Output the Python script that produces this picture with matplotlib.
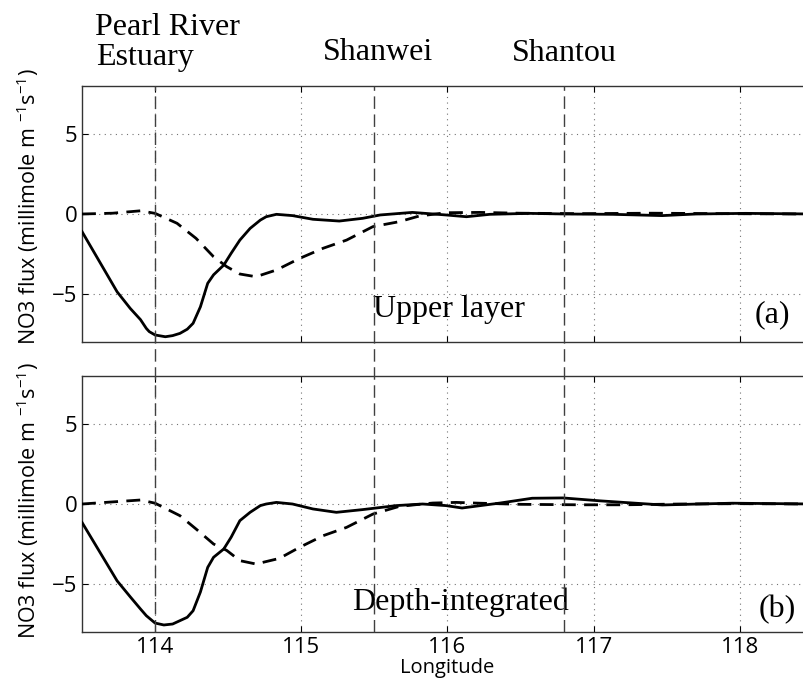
"""
NO3 flux along the coast: upper layer vs depth-integrated
"""

import matplotlib
matplotlib.use("Agg")
import matplotlib.pyplot as plt
from matplotlib.lines import Line2D
from matplotlib.transforms import blended_transform_factory

plt.rcParams["font.family"] = ["Open Sans", "DejaVu Sans"]
plt.rcParams["mathtext.fontset"] = "custom"
plt.rcParams["mathtext.rm"] = "Open Sans"
plt.rcParams["mathtext.default"] = "regular"

# upper layer, solid and dashed
up_solid_lon = [113.5, 113.74, 113.83, 113.9, 113.94, 113.96, 114.0, 114.07, 114.12,
                114.17, 114.22, 114.26, 114.31, 114.36, 114.4, 114.47, 114.52, 114.58,
                114.65, 114.72, 114.76, 114.83, 114.94, 115.08, 115.26, 115.42, 115.54,
                115.76, 115.99, 116.13, 116.29, 116.56, 116.81, 117.13, 117.47, 117.7,
                118.04, 118.5]
up_solid_val = [-1.1, -4.86, -5.9, -6.6, -7.15, -7.35, -7.56, -7.67, -7.6,
                -7.46, -7.2, -6.83, -5.8, -4.33, -3.8, -3.19, -2.46, -1.63,
                -0.9, -0.38, -0.17, -0.02, -0.1, -0.33, -0.44, -0.27, -0.06,
                0.1, -0.06, -0.17, -0.02, 0.04, 0.0, -0.02, -0.1, 0.0,
                0.04, 0.0]

up_dash_lon = [113.5, 113.71, 113.9, 114.0, 114.15, 114.28, 114.4, 114.49, 114.58,
               114.69, 114.83, 114.99, 115.15, 115.31, 115.49, 115.67, 115.81, 115.99,
               116.22, 116.49, 116.9, 117.4, 117.9, 118.5]
up_dash_val = [0.0, 0.05, 0.2, 0.04, -0.58, -1.52, -2.67, -3.29, -3.75,
               -3.92, -3.5, -2.77, -2.14, -1.63, -0.79, -0.48, -0.12, 0.08,
               0.1, 0.05, 0.02, 0.05, 0.02, 0.0]

# depth-integrated, solid and dashed
di_solid_lon = [113.5, 113.74, 113.83, 113.9, 113.94, 114.0, 114.06, 114.12, 114.17,
                114.22, 114.26, 114.31, 114.36, 114.4, 114.47, 114.52, 114.58, 114.65,
                114.72, 114.76, 114.83, 114.94, 115.08, 115.24, 115.42, 115.65, 115.83,
                115.99, 116.1, 116.36, 116.58, 116.79, 117.04, 117.27, 117.47, 117.72,
                117.95, 118.5]
di_solid_val = [-1.15, -4.8, -5.8, -6.56, -6.98, -7.44, -7.56, -7.5, -7.29,
                -7.08, -6.67, -5.5, -3.96, -3.33, -2.81, -2.08, -1.04, -0.52,
                -0.1, 0.0, 0.1, 0.0, -0.31, -0.52, -0.35, -0.1, 0.0,
                -0.1, -0.25, 0.06, 0.36, 0.38, 0.2, 0.06, -0.06, 0.0,
                0.05, 0.0]

di_dash_lon = [113.5, 113.9, 114.0, 114.17, 114.28, 114.4, 114.49, 114.58, 114.69,
               114.85, 114.99, 115.15, 115.31, 115.49, 115.67, 115.83, 115.9, 116.06,
               116.22, 116.5, 116.9, 117.2, 117.6, 118.0, 118.5]
di_dash_val = [0.0, 0.25, 0.05, -0.73, -1.56, -2.5, -2.9, -3.54, -3.75,
               -3.4, -2.7, -1.98, -1.46, -0.63, -0.15, 0.0, 0.06, 0.1,
               0.05, -0.02, -0.05, -0.05, 0.0, 0.02, 0.0]

# coastal sites marked by vertical dashed lines
site_lon = [114.0, 115.5, 116.8]
site_names = ["Pearl River", "Estuary", "Shanwei", "Shantou"]

ylab = r"NO3 flux (millimole m $^{-1}$s$^{-1}$)"

fig = plt.figure(figsize=(8.04, 6.89), dpi=100)
ax1 = fig.add_axes([0.102, 0.5036, 0.909, 0.3716])
ax2 = fig.add_axes([0.102, 0.0827, 0.909, 0.3716])

for ax, (sx, sy), (dx, dy), ly in [
    (ax1, (up_solid_lon, up_solid_val), (up_dash_lon, up_dash_val), 0.53),
    (ax2, (di_solid_lon, di_solid_val), (di_dash_lon, di_dash_val), 0.515),
]:
    ax.plot(sx, sy, color="black", lw=2.0, zorder=3)
    ax.plot(dx, dy, color="black", lw=2.0, dashes=(5, 3), zorder=3)
    ax.set_xlim(113.5, 118.5)
    ax.set_ylim(-8, 8)
    ax.set_xticks([114, 115, 116, 117, 118])
    ax.set_yticks([-5, 0, 5])
    ax.grid(True, color="0.45", linestyle=(0, (1, 4)), linewidth=0.8)
    ax.tick_params(direction="in", length=4, top=True, right=True,
                   labelsize=16, width=0.8)
    for sp in ax.spines.values():
        sp.set_linewidth(1.0)
        sp.set_color("0.2")
    ax.set_ylabel(ylab, fontsize=15.5)
    ax.yaxis.set_label_coords(-0.056, ly)

ax1.tick_params(labelbottom=False)
ax2.set_xlabel("Longitude", fontsize=14.5, labelpad=0)

# site lines run through both panels
trans = blended_transform_factory(ax2.transData, fig.transFigure)
for lon in site_lon:
    fig.add_artist(Line2D([lon, lon], [0.0827, 0.8752], transform=trans,
                          color="0.25", lw=1.0, dashes=(9, 4), zorder=5))

serif = "Liberation Serif"
fs = 23
fig.text(0.118, 0.949, site_names[0], family=serif, fontsize=fs, va="baseline")
fig.text(0.120, 0.906, site_names[1], family=serif, fontsize=fs, va="baseline")
fig.text(0.4018, 0.913, site_names[2], family=serif, fontsize=fs, va="baseline")
fig.text(0.637, 0.9115, site_names[3], family=serif, fontsize=fs, va="baseline")

fig.text(0.464, 0.540, "Upper layer", family=serif, fontsize=fs, va="baseline")
fig.text(0.939, 0.533, "(a)", family=serif, fontsize=fs, va="baseline")
fig.text(0.438, 0.1146, "Depth-integrated", family=serif, fontsize=fs, va="baseline")
fig.text(0.943, 0.1045, "(b)", family=serif, fontsize=fs, va="baseline")

fig.savefig("out.png", dpi=100)
plt.close(fig)
